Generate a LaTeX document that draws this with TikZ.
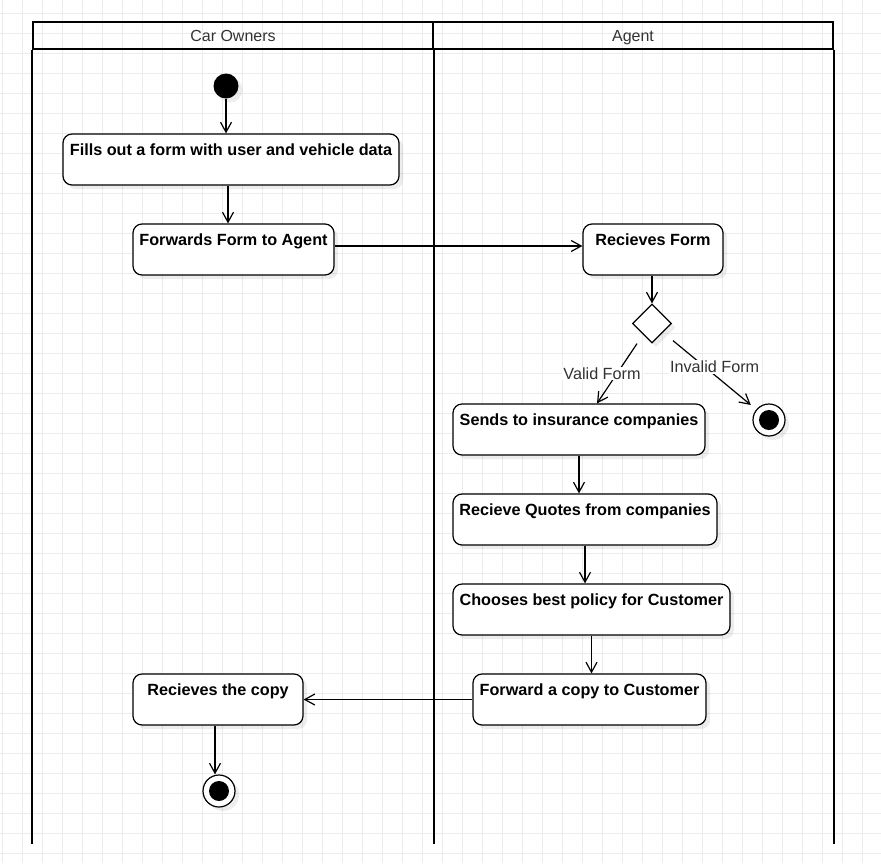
\documentclass[tikz,border=0pt]{standalone}
\usepackage{fontspec}
\setmainfont{Liberation Sans}
\usetikzlibrary{arrows.meta,shapes.geometric,shadows}

\begin{document}
\begin{tikzpicture}[x=1pt,y=-1pt,
	gridline/.style={draw=gray!15, line width=1pt},
	mylane/.style={line width=2.4pt},
	mylanehead/.style={draw, line width=2.4pt, minimum width=400pt, minimum height=27pt, inner sep=0pt,
		text height=11.6pt, text depth=0pt, text=black!80, font=\fontsize{16}{18}\selectfont},
	myshadow/.style={drop shadow={shadow xshift=4pt, shadow yshift=-4pt, fill=black, opacity=.07}},
	myact/.style={draw, line width=1.2pt, rounded corners=9pt, fill=white, inner xsep=0pt, inner ysep=0pt,
		text height=21pt, text depth=30pt, font=\bfseries\fontsize{16.2}{18}\selectfont, myshadow},
	mycirc/.style={circle, fill=black, minimum size=25pt, inner sep=0pt, myshadow},
	myend/.style={circle, draw, line width=1.2pt, fill=white, minimum size=32pt, inner sep=0pt, myshadow,
		path picture={\fill[black] (path picture bounding box.center) circle[radius=10pt];}},
	mydiam/.style={diamond, draw, line width=1.2pt, fill=white, aspect=1, minimum size=39pt, inner sep=0pt, myshadow},
	flow/.style={-{Straight Barb[length=10pt,width=11pt]}, line width=1.2pt},
	mylbl/.style={fill=white, inner sep=1pt, text=black!80, font=\fontsize{16.2}{18}\selectfont}
	]
	\fill[white] (0,0) rectangle (881,863);
	\useasboundingbox (0,0) rectangle (881,863);
	\foreach \i in {0,...,43} \draw[gridline] ({2.7+20*\i},0) -- ({2.7+20*\i},863);
	\foreach \i in {0,...,42} \draw[gridline] (0,{13.3+20*\i}) -- (881,{13.3+20*\i});
	%%%%%%%%%%%%%%% lanes
	\node[mylanehead] (own) at (233,35.5) {Car Owners};
	\node[mylanehead] (agt) at (633,35.5) {Agent};
	\draw[mylane] (own.south west) -- ++(0,794);
	\draw[mylane] (own.south east) -- ++(0,794);
	\draw[mylane] (agt.south east) -- ++(0,794);
	%%%%%%%%%%%%%%% car owners
	\node[mycirc] (s0) at (226,86) {};
	\node[myact, minimum width=336pt] (c1) at (231,159.5) {Fills out a form with user and vehicle data};
	\node[myact, minimum width=201pt] (c2) at (233.5,249.5) {Forwards Form to Agent};
	\node[myact, minimum width=170pt] (c3) at (218,699.5) {Recieves the copy};
	\node[myend] (e2) at (219,791) {};
	%%%%%%%%%%%%%%% agent
	\node[myact, minimum width=140pt] (g1) at (653,249.5) {Recieves Form};
	\node[mydiam] (d1) at (652,323.5) {};
	\node[myend] (e1) at (769,420) {};
	\node[myact, minimum width=252pt] (g2) at (579,429.5) {Sends to insurance companies};
	\node[myact, minimum width=264pt] (g3) at (585,519.5) {Recieve Quotes from companies};
	\node[myact, minimum width=277pt] (g4) at (591.5,609.5) {Chooses best policy for Customer};
	\node[myact, minimum width=233pt] (g5) at (589.5,699.5) {Forward a copy to Customer};
	%%%%%%%%%%%%%%% flows
	\draw[flow] (s0) -- (s0 |- c1.north);
	\draw[flow] ([xshift=-3pt]c1.south) -- ([xshift=-3pt]c1.south |- c2.north);
	\draw[flow] ([yshift=3.5pt]c2.east) -- ([yshift=3.5pt]g1.west);
	\draw[flow] (g1.south -| d1) -- (d1);
	\draw[flow] ([xshift=-15pt]d1.south) -- node[mylbl, xshift=-15pt]{Valid Form} ([xshift=18pt]g2.north);
	\draw[flow, shorten >=7pt] ([shift={(21pt,3pt)}]d1.south) -- node[mylbl, yshift=8pt]{Invalid Form} (e1);
	\draw[flow] (g2.south) -- (g2.south |- g3.north);
	\draw[flow] (g3.south) -- (g3.south |- g4.north);
	\draw[flow] (g4.south) -- (g4.south |- g5.north);
	\draw[flow] (g5.west) -- (c3.east);
	\draw[flow] ([xshift=-3pt]c3.south) -- ([xshift=-3pt]c3.south |- e2.north);
\end{tikzpicture}
\end{document}
